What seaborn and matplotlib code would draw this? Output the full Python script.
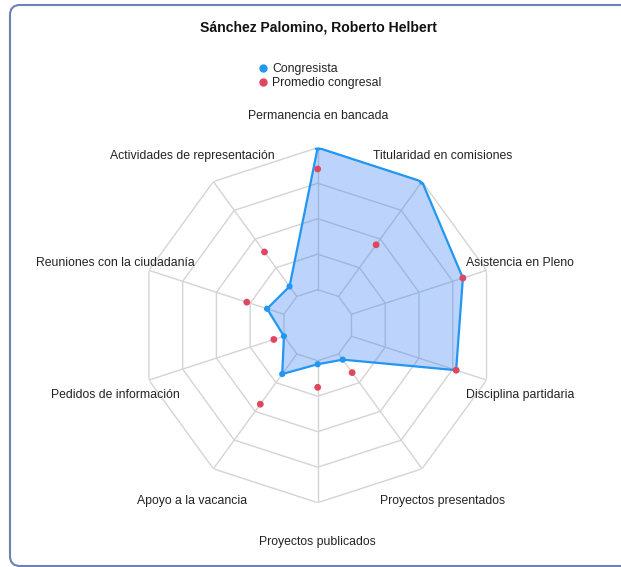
import numpy as np
import matplotlib
matplotlib.use("Agg")
import matplotlib.pyplot as plt
import seaborn as sns
from matplotlib.patches import FancyBboxPatch
from matplotlib.lines import Line2D
from matplotlib.transforms import IdentityTransform

# ---------------- data ----------------
categories = ["Permanencia en bancada", "Titularidad en comisiones", "Asistencia en Pleno",
              "Disciplina partidaria", "Proyectos presentados", "Proyectos publicados",
              "Apoyo a la vacancia", "Pedidos de información", "Reuniones con la ciudadanía",
              "Actividades de representación"]
congresista = [100, 100, 86, 82, 24, 22, 34, 20, 30, 27]
promedio = [88, 56, 86, 82, 33, 35, 55, 26, 42, 51]
ring_levels = [20, 40, 60, 80, 100]
series_names = ["Congresista", "Promedio congresal"]
title = "Sánchez Palomino, Roberto Helbert"

# ---------------- style ----------------
sns.set_theme(style="white")
plt.rcParams['font.family'] = ['Liberation Sans', 'DejaVu Sans']

blue = '#2196f3'
fill_c = (0.13, 0.45, 0.95)
red = '#e0475f'
grid_c = '#d4d4d4'
txt_c = '#222222'

W, H = 621, 567
fig = plt.figure(figsize=(W / 100, H / 100), dpi=100)
fig.patch.set_facecolor('white')

cx, cy, R = 317.7, 325.2, 177.5
ax = fig.add_axes([(cx - R) / W, (H - cy - R) / H, 2 * R / W, 2 * R / H], projection='polar')
ax.set_theta_offset(np.pi / 2)
ax.set_theta_direction(-1)
ax.set_ylim(0, ring_levels[-1])
ax.grid(False)
ax.spines['polar'].set_visible(False)
ax.set_xticks([])
ax.set_yticks([])
ax.patch.set_alpha(0)

n = len(categories)
theta = np.arange(n) * 2 * np.pi / n
theta_closed = np.append(theta, theta[0])

# polygon grid
for lvl in ring_levels:
    ax.plot(theta_closed, [lvl] * (n + 1), color=grid_c, lw=1, zorder=1)
for t in theta:
    ax.plot([t, t], [ring_levels[0], ring_levels[-1]], color=grid_c, lw=1, zorder=1)

# congresista area
c_closed = np.append(congresista, congresista[0])
ax.fill(theta_closed, c_closed, color=fill_c, alpha=0.3, lw=0, zorder=2)
ax.plot(theta_closed, c_closed, color=blue, lw=1.6, zorder=3)
sns.scatterplot(x=theta, y=congresista, ax=ax, color=blue, s=20, edgecolor='none',
                zorder=4, legend=False)
sns.scatterplot(x=theta, y=promedio, ax=ax, color=red, s=24, edgecolor='none',
                zorder=5, legend=False)
ax.set_xlabel('')
ax.set_ylabel('')

# axis labels
for t, lab in zip(theta, categories):
    ax.annotate(lab, xy=(t, ring_levels[-1] * 1.2), xytext=(0, -3.5),
                textcoords='offset pixels', ha='center', va='center', fontsize=8.8,
                color=txt_c, annotation_clip=False)

# title
fig.text(318 / W, 1 - 27 / H, title, ha='center', va='center', fontsize=10.1,
         fontweight='bold', color='#111111')

# legend
handles = [Line2D([], [], marker='o', linestyle='', color=blue, markersize=5),
           Line2D([], [], marker='o', linestyle='', color=red, markersize=5)]
fig.legend(handles, series_names, loc='upper left',
           bbox_to_anchor=(258.3 / W, 1 - 63.0 / H), frameon=False, fontsize=8.8,
           handlelength=0.8, handletextpad=0.35, labelspacing=0.2, borderpad=0,
           borderaxespad=0, labelcolor=txt_c)

# outer rounded frame
frame = FancyBboxPatch((10, H - 566), 640, 561, boxstyle="round,pad=0,rounding_size=10",
                       transform=IdentityTransform(), facecolor='none',
                       edgecolor='#6d82b4', lw=1.5)
fig.add_artist(frame)

fig.savefig('out.png', dpi=100)
